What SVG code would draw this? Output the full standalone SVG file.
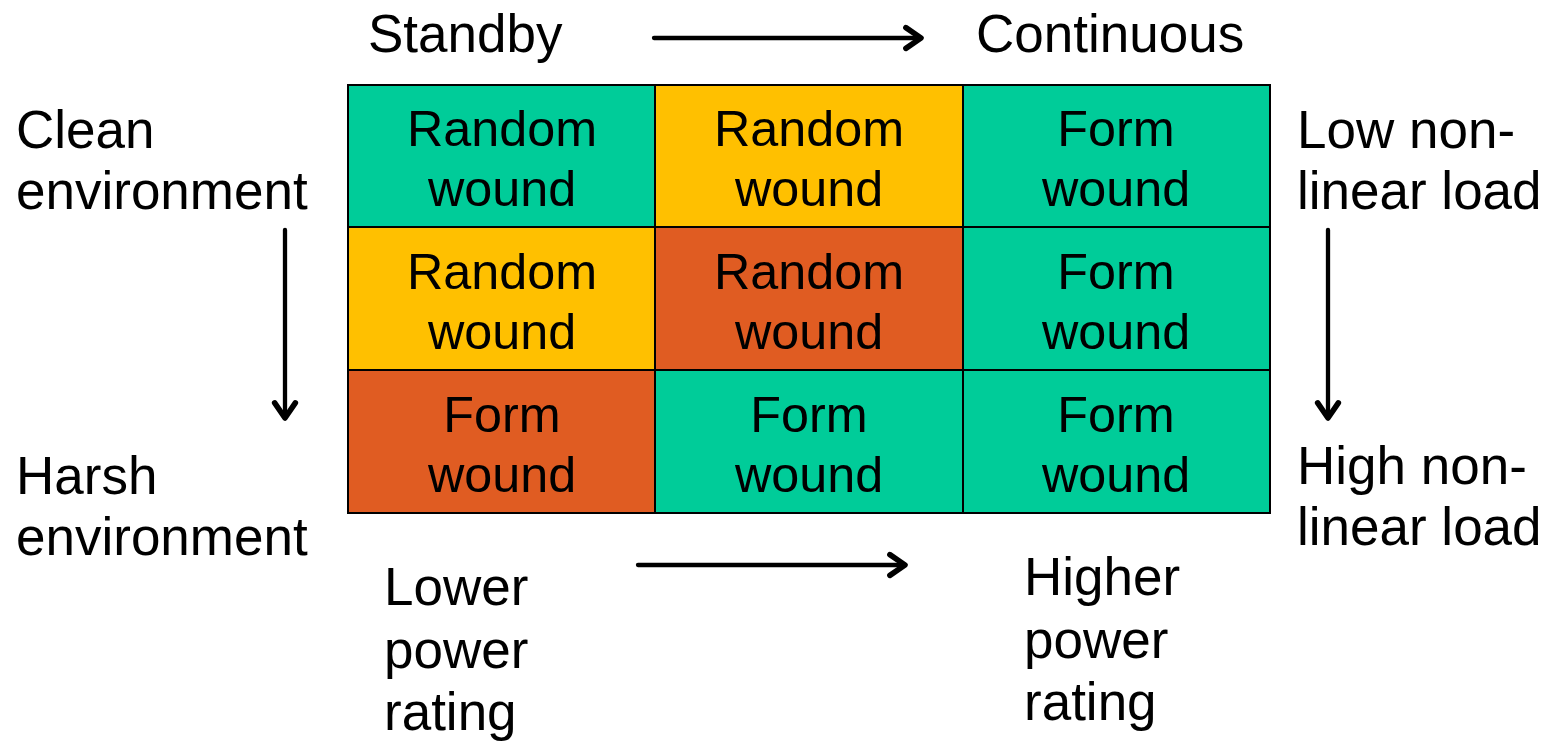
<svg xmlns="http://www.w3.org/2000/svg" width="1553" height="742" viewBox="0 0 1553 742">
<defs>
<style>
.t{font-family:"Liberation Sans",Arial,sans-serif;font-size:50.3px;fill:#000}
.c{text-anchor:middle}
.o{font-size:53px}
.g{fill:#00CC99;stroke:#000;stroke-width:2}
.y{fill:#FFC000;stroke:#000;stroke-width:2}
.r{fill:#E05C22;stroke:#000;stroke-width:2}
.ln{stroke:#000;stroke-width:4.3;fill:none;stroke-linecap:round;stroke-linejoin:round}
</style>
<marker id="ah" viewBox="0 0 10 10" refX="8" refY="5" markerWidth="6.5" markerHeight="6.5" orient="auto" markerUnits="strokeWidth">
<polyline points="2.6,1.3 8,5 2.6,8.7" fill="none" stroke="#000" stroke-width="2" stroke-linecap="round" stroke-linejoin="round"/>
</marker>
</defs>
<rect width="1553" height="742" fill="#fff"/>
<g id="cell-1-1"><rect class="g" x="348" y="85" width="307" height="142"/><text class="t c" x="502" y="146">Random</text><text class="t c" x="502" y="206">wound</text></g>
<g id="cell-1-2"><rect class="y" x="655" y="85" width="308" height="142"/><text class="t c" x="809" y="146">Random</text><text class="t c" x="809" y="206">wound</text></g>
<g id="cell-1-3"><rect class="g" x="963" y="85" width="307" height="142"/><text class="t c" x="1116" y="146">Form</text><text class="t c" x="1116" y="206">wound</text></g>
<g id="cell-2-1"><rect class="y" x="348" y="227" width="307" height="143"/><text class="t c" x="502" y="289">Random</text><text class="t c" x="502" y="349">wound</text></g>
<g id="cell-2-2"><rect class="r" x="655" y="227" width="308" height="143"/><text class="t c" x="809" y="289">Random</text><text class="t c" x="809" y="349">wound</text></g>
<g id="cell-2-3"><rect class="g" x="963" y="227" width="307" height="143"/><text class="t c" x="1116" y="289">Form</text><text class="t c" x="1116" y="349">wound</text></g>
<g id="cell-3-1"><rect class="r" x="348" y="370" width="307" height="143"/><text class="t c" x="502" y="432">Form</text><text class="t c" x="502" y="492">wound</text></g>
<g id="cell-3-2"><rect class="g" x="655" y="370" width="308" height="143"/><text class="t c" x="809" y="432">Form</text><text class="t c" x="809" y="492">wound</text></g>
<g id="cell-3-3"><rect class="g" x="963" y="370" width="307" height="143"/><text class="t c" x="1116" y="432">Form</text><text class="t c" x="1116" y="492">wound</text></g>
<g id="label-standby"><text class="t o" x="368" y="52">Standby</text></g>
<g id="label-continuous"><text class="t o" x="976" y="52">Continuous</text></g>
<g id="label-clean"><text class="t o" x="16" y="148">Clean</text><text class="t o" x="16" y="209">environment</text></g>
<g id="label-harsh"><text class="t o" x="16" y="494">Harsh</text><text class="t o" x="16" y="555">environment</text></g>
<g id="label-low"><text class="t o" x="1297" y="148">Low non-</text><text class="t o" x="1297" y="209">linear load</text></g>
<g id="label-high"><text class="t o" x="1297" y="484">High non-</text><text class="t o" x="1297" y="545">linear load</text></g>
<g id="label-lower"><text class="t o" x="384" y="605">Lower</text><text class="t o" x="384" y="668">power</text><text class="t o" x="384" y="730">rating</text></g>
<g id="label-higher"><text class="t o" x="1024" y="595">Higher</text><text class="t o" x="1024" y="658">power</text><text class="t o" x="1024" y="720">rating</text></g>
<g id="connectors">
<line class="ln" x1="654" y1="38" x2="921" y2="38" marker-end="url(#ah)"/>
<line class="ln" x1="638" y1="565" x2="905" y2="565" marker-end="url(#ah)"/>
<line class="ln" x1="285" y1="230" x2="285" y2="418" marker-end="url(#ah)"/>
<line class="ln" x1="1328" y1="230" x2="1328" y2="418" marker-end="url(#ah)"/>
</g>
</svg>
